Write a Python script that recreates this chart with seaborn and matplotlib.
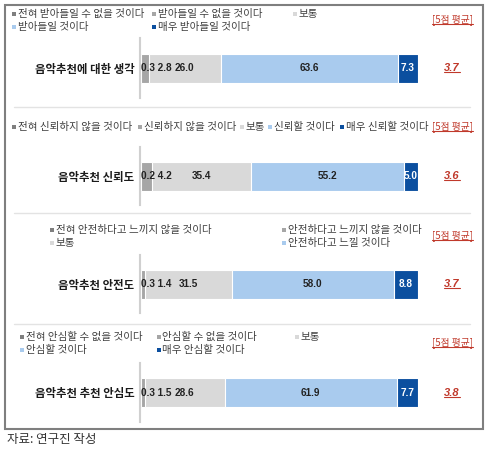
import matplotlib.pyplot as plt
import seaborn as sns
from matplotlib.patches import Rectangle
from matplotlib.lines import Line2D

# data
categories = ["음악추천에 대한 생각", "음악추천 신뢰도", "음악추천 안전도", "음악추천 추천 안심도"]
accept_vals = [0.3, 2.8, 26.0, 63.6, 7.3]
trust_vals = [0.2, 4.2, 35.4, 55.2, 5.0]
safe_vals = [0.3, 1.4, 31.5, 58.0, 8.8]
relief_vals = [0.3, 1.5, 28.6, 61.9, 7.7]
means = [3.7, 3.6, 3.7, 3.8]

accept_labels = ["전혀 받아들일 수 없을 것이다", "받아들일 수 없을 것이다", "보통",
                 "받아들일 것이다", "매우 받아들일 것이다"]
trust_labels = ["전혀 신뢰하지 않을 것이다", "신뢰하지 않을 것이다", "보통",
                "신뢰할 것이다", "매우 신뢰할 것이다"]
safe_labels = ["전혀 안전하다고 느끼지 않을 것이다", "안전하다고 느끼지 않을 것이다", "보통",
               "안전하다고 느낄 것이다", "매우 안전하다고 느낄 것이다"]
relief_labels = ["전혀 안심할 수 없을 것이다", "안심할 수 없을 것이다", "보통",
                 "안심할 것이다", "매우 안심할 것이다"]

colors = ["#7f7f7f", "#a6a6a6", "#d9d9d9", "#a9cbee", "#0b4f9f"]
RED = "#c0392b"

sns.set_style("white")
plt.rcParams["font.family"] = ["Noto Sans CJK KR", "DejaVu Sans"]

W, H = 492, 453
fig = plt.figure(figsize=(W / 100, H / 100), dpi=100)


def fx(x):
    return x / W


def fy(y):
    return 1 - y / H


# layout of each panel (pixels): bar band, legend slots, avg label y
panels = [
    dict(vals=accept_vals, labels=accept_labels, band=(38, 98), avg_y=20,
         slots=[(12, 14), (152, 14), (293, 14), (12, 27), (152, 27)]),
    dict(vals=trust_vals, labels=trust_labels, band=(147, 205), avg_y=127,
         slots=[(12, 127), (138, 127), (240, 127), (268, 127), (340, 127)]),
    dict(vals=safe_vals, labels=safe_labels, band=(255, 313), avg_y=236,
         slots=[(50, 230), (282, 230), (50, 243), (282, 243)]),
    dict(vals=relief_vals, labels=relief_labels, band=(363, 422), avg_y=343,
         slots=[(20, 337), (157, 337), (295, 337), (20, 350), (157, 350)]),
]

bar_x0, bar_x1 = 140, 418
underline_me = []

for cat, mean, p in zip(categories, means, panels):
    top, bot = p["band"]
    ax = fig.add_axes([fx(bar_x0), fy(bot), (bar_x1 - bar_x0) / W, (bot - top) / H])
    vals = p["vals"]
    cum = [sum(vals[:i + 1]) for i in range(len(vals))]
    # stacked bar: draw cumulative totals from longest to shortest
    for i in reversed(range(len(vals))):
        sns.barplot(x=[cum[i]], y=[cat], color=colors[i], saturation=1,
                    width=29 / (bot - top), edgecolor="white", linewidth=0.8, ax=ax)
    ax.set_xlim(0, 100)
    ax.set_ylim(0.5, -0.5)
    ax.set_xlabel("")
    ax.set_ylabel("")
    ax.set_xticks([])
    for s in ["top", "right", "bottom"]:
        ax.spines[s].set_visible(False)
    ax.spines["left"].set_color("#d0d0d0")
    ax.spines["left"].set_linewidth(1.5)
    ax.tick_params(axis="y", length=0, pad=4)
    for lbl in ax.get_yticklabels():
        lbl.set_fontweight("bold")
        lbl.set_fontsize(8.2)
        lbl.set_color("#1a1a1a")

    vfont = dict(family=["Liberation Sans", "DejaVu Sans"], fontweight="bold", fontsize=7.2)
    # two tiny segments share one label at the left end
    ax.text(0.3, 0, f"{vals[0]:.1f} {vals[1]:.1f}", ha="left", va="center", color="#222222", **vfont)
    for i in range(2, len(vals)):
        c = cum[i] - vals[i] / 2
        t = ax.text(c, 0, f"{vals[i]:.1f}", ha="center", va="center",
                    color="white" if i == 4 else "#222222", **vfont)
        if i == 4:
            t.set_clip_path(ax.patches[0])

    m = ax.text((452 - bar_x0) / (bar_x1 - bar_x0) * 100, 0, f"{mean:.1f}", ha="center", va="center",
                color=RED, fontsize=8, fontweight="bold", fontstyle="italic",
                family=["Liberation Sans", "DejaVu Sans"])
    underline_me.append(m)

    # legend
    for (lx, ly), lab, c in zip(p["slots"], p["labels"], colors):
        fig.add_artist(Rectangle((fx(lx), fy(ly + 2)), 4 / W, 4 / H,
                                 transform=fig.transFigure, color=c, lw=0))
        fig.text(fx(lx + 5.5), fy(ly), lab, ha="left", va="center", fontsize=7.6, color="#404040")
    a = fig.text(fx(452), fy(p["avg_y"]), "[5점 평균]", ha="center", va="center",
                 fontsize=7, color=RED)
    underline_me.append(a)

# separators and frame
for y in [107, 213, 324]:
    fig.add_artist(Line2D([fx(14), fx(470)], [fy(y), fy(y)], transform=fig.transFigure,
                          color="#e3e3e3", lw=1))
fig.add_artist(Rectangle((fx(5), fy(429)), 478 / W, 424 / H, transform=fig.transFigure,
                         fill=False, edgecolor="#7f7f7f", lw=1.5))

fig.text(fx(7), fy(440), "자료: 연구진 작성", ha="left", va="center", fontsize=9, color="#333333")

# underline the red texts
fig.canvas.draw()
r = fig.canvas.get_renderer()
for t in underline_me:
    bb = t.get_window_extent(r)
    yy = (bb.y0 + 1) / H
    fig.add_artist(Line2D([bb.x0 / W, bb.x1 / W], [yy, yy], transform=fig.transFigure,
                          color=RED, lw=0.8))

fig.savefig("out.png", dpi=100)
